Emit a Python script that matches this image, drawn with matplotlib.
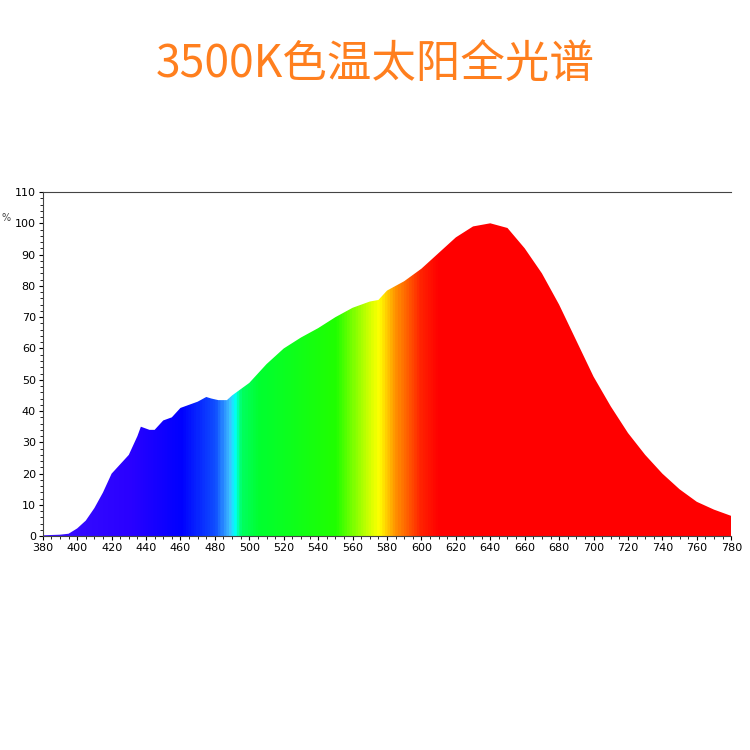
import numpy as np
import matplotlib
matplotlib.use('Agg')
import matplotlib.pyplot as plt
from matplotlib.colors import LinearSegmentedColormap

plt.rcParams['font.family'] = ['Noto Sans CJK SC', 'DejaVu Sans']

# spectrum
wavelength = [380, 390, 395, 400, 405, 410, 415, 420, 425, 430, 435, 437, 442, 445, 450, 455, 460,
              465, 470, 475, 478, 482, 487, 490, 500, 510, 520, 530, 540, 550, 560, 570, 575,
              580, 590, 600, 610, 620, 630, 640, 650, 660, 670, 680, 690, 700, 710, 720,
              730, 740, 750, 760, 770, 780]
intensity = [0.3, 0.5, 0.8, 2.5, 5, 9, 14, 20, 23, 26, 32, 35, 34, 34, 37, 38, 41,
             42, 43, 44.5, 44, 43.5, 43.5, 45, 49, 55, 60, 63.5, 66.5, 70, 73, 75, 75.5,
             78.5, 81.5, 85.5, 90.5, 95.5, 99, 100, 98.5, 92, 84, 74, 62.5, 51, 41.5, 33,
             26, 20, 15, 11, 8.5, 6.5]

title = '3500K色温太阳全光谱'

# spectral colour stops (wavelength, colour)
stops = [(380, '#3a10ff'), (430, '#2a00ff'), (460, '#0000ff'), (480, '#1050ff'),
         (488, '#40c0ff'), (491, '#00ffff'), (495, '#00ff60'), (505, '#00ff30'),
         (550, '#20ff00'), (565, '#aaff00'), (575, '#ffff00'), (585, '#ff9000'),
         (600, '#ff2000'), (610, '#ff0000'), (780, '#ff0000')]
lo, hi = 380, 780
cmap = LinearSegmentedColormap.from_list(
    'spec', [((w - lo) / (hi - lo), c) for w, c in stops])

fig = plt.figure(figsize=(7.5, 7.5), dpi=100)
fig.text(0.5, 0.915, title, ha='center', va='center', fontsize=32, color='#ff7f1e')

ax = fig.add_axes([0.057, 0.285, 0.918, 0.459])
grad = np.linspace(0, 1, 800).reshape(1, -1)
im = ax.imshow(grad, cmap=cmap, aspect='auto', extent=[lo, hi, 0, 110])
poly = ax.fill_between(wavelength, intensity, 0, color='none')
path = poly.get_paths()[0]
im.set_clip_path(path, transform=ax.transData)

ax.set_xlim(lo, hi)
ax.set_ylim(0, 110)
ax.set_xticks(range(380, 781, 20))
ax.set_xticks(range(380, 781, 5), minor=True)
ax.set_yticks(range(0, 111, 10))
ax.set_yticks(range(0, 111, 2), minor=True)
ax.tick_params(labelsize=8, length=3, pad=2, family='DejaVu Sans') if False else ax.tick_params(labelsize=8, length=3, pad=2)
ax.tick_params(which='minor', length=2)
for lab in ax.get_xticklabels() + ax.get_yticklabels():
    lab.set_family('DejaVu Sans')
for s in ax.spines.values():
    s.set_color('#444444')
ax.spines['right'].set_visible(False)
fig.text(0.002, 0.705, '%', fontsize=7, family='DejaVu Sans', color='#444444')

fig.savefig('out.png', dpi=100)
